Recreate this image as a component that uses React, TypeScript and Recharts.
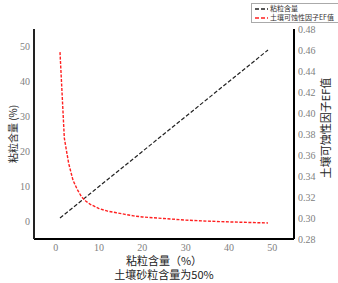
import { LineChart, Line, XAxis, YAxis, Legend } from "recharts";

// clay content (%) along the x axis
const clayContent = [1, 2, 3, 4, 5, 6, 7, 8, 9, 10, 12, 14, 16, 18, 20, 25, 30, 35, 40, 45, 49];
// left series: clay content itself
const claySeries = [1, 2, 3, 4, 5, 6, 7, 8, 9, 10, 12, 14, 16, 18, 20, 25, 30, 35, 40, 45, 49];
// right series: soil erodibility factor EF
const efSeries = [
  0.458, 0.376, 0.352, 0.336, 0.327, 0.32, 0.316, 0.313, 0.311, 0.309, 0.3065, 0.305, 0.3035,
  0.302, 0.301, 0.2995, 0.298, 0.297, 0.2963, 0.2957, 0.2953,
];
const xTicks = [0, 10, 20, 30, 40, 50];
const leftTicks = [0, 10, 20, 30, 40, 50];
const rightTicks = [0.28, 0.3, 0.32, 0.34, 0.36, 0.38, 0.4, 0.42, 0.44, 0.46, 0.48];

const data = clayContent.map((x, i) => ({ x, clay: claySeries[i], ef: efSeries[i] }));

const CJK = "'Noto Sans CJK SC', sans-serif";
const SERIF = "'Liberation Serif', 'DejaVu Serif', serif";

// serif gray tick text, anchored by side
const makeTick = (side: "bottom" | "left" | "right", fmt?: (v: number) => string) => (props: any) => {
  const { x, y, payload } = props;
  const v = payload.value as number;
  const txt = fmt ? fmt(v) : String(v);
  const anchor = side === "bottom" ? "middle" : side === "left" ? "end" : "start";
  const dy = side === "bottom" ? 7.5 : 3.5;
  return (
    <text x={x} y={y + dy} textAnchor={anchor} fontFamily={SERIF} fontSize={10} fill="#808080">
      {txt}
    </text>
  );
};

function LegendBox() {
  const items = [
    { name: "粘粒含量", color: "#222", dash: "4 2" },
    { name: "土壤可蚀性因子EF值", color: "#ff2020", dash: "4 2" },
  ];
  return (
    <div
      style={{
        border: "1px solid #aaa",
        background: "#fff",
        padding: "0px 3px",
        fontFamily: CJK,
        fontSize: 7,
        lineHeight: "9px",
        color: "#333",
        width: 80,
      }}
    >
      {items.map((it) => (
        <div key={it.name} style={{ display: "flex", alignItems: "center", height: 9 }}>
          <svg width={13} height={8} style={{ marginRight: 2, flexShrink: 0 }}>
            <line x1={0} y1={4} x2={13} y2={4} stroke={it.color} strokeWidth={1.5} strokeDasharray={it.dash} />
          </svg>
          <span style={{ whiteSpace: "nowrap" }}>{it.name}</span>
        </div>
      ))}
    </div>
  );
}

export default function App() {
  return (
    <div style={{ position: "absolute", left: 0, top: 0, width: 338, height: 283, background: "#fff" }}>
      <LineChart width={338} height={283} data={data} margin={{ top: 29, right: 4, bottom: 14, left: 4 }}>
        <XAxis
          dataKey="x"
          type="number"
          domain={[-5, 55]}
          ticks={xTicks}
          interval={0}
          tickLine={false}
          tickSize={4}
          tickMargin={0}
          tick={makeTick("bottom")}
          height={30}
          axisLine={{ stroke: "#000", strokeWidth: 2 }}
          label={{
            content: (props: any) => {
              const vb = props.viewBox || {};
              const cx = vb.x + vb.width / 2;
              return (
                <g fontFamily={CJK} fontSize={11} fill="#222" textAnchor="middle">
                  <text x={cx} y={vb.y + 25.5}>粘粒含量（%）</text>
                  <text x={cx} y={vb.y + 40}>土壤砂粒含量为50%</text>
                </g>
              );
            },
          }}
        />
        <YAxis
          yAxisId="left"
          type="number"
          domain={[-5, 55]}
          ticks={leftTicks}
          interval={0}
          width={30}
          tickLine={false}
          tickSize={4}
          tickMargin={0}
          tick={makeTick("left")}
          axisLine={{ stroke: "#222", strokeWidth: 2 }}
          label={{
            value: "粘粒含量 (%)",
            angle: -90,
            position: "center",
            dx: -6,
            style: { fontFamily: CJK, fontSize: 10, fill: "#222" },
          }}
        />
        <YAxis
          yAxisId="right"
          orientation="right"
          type="number"
          domain={[0.28, 0.48]}
          ticks={rightTicks}
          interval={0}
          width={40}
          tickLine={false}
          tickSize={4}
          tickMargin={0}
          tick={makeTick("right", (v) => v.toFixed(2))}
          axisLine={{ stroke: "#000", strokeWidth: 2 }}
          label={{
            value: "土壤可蚀性因子EF值",
            angle: -90,
            position: "center",
            dx: 12,
            dy: -6,
            style: { fontFamily: CJK, fontSize: 11, fill: "#222" },
          }}
        />
        <Legend
          layout="vertical"
          align="center"
          verticalAlign="middle"
          wrapperStyle={{ top: 3, left: 251, width: 88 }}
          content={() => <LegendBox />}
        />
        <Line
          yAxisId="left"
          dataKey="clay"
          type="linear"
          stroke="#222"
          strokeWidth={1.2}
          strokeDasharray="4 2"
          dot={false}
          isAnimationActive={false}
        />
        <Line
          yAxisId="right"
          dataKey="ef"
          type="linear"
          stroke="#ff2020"
          strokeWidth={1.4}
          strokeDasharray="3 1.5"
          dot={false}
          isAnimationActive={false}
        />
      </LineChart>
    </div>
  );
}
